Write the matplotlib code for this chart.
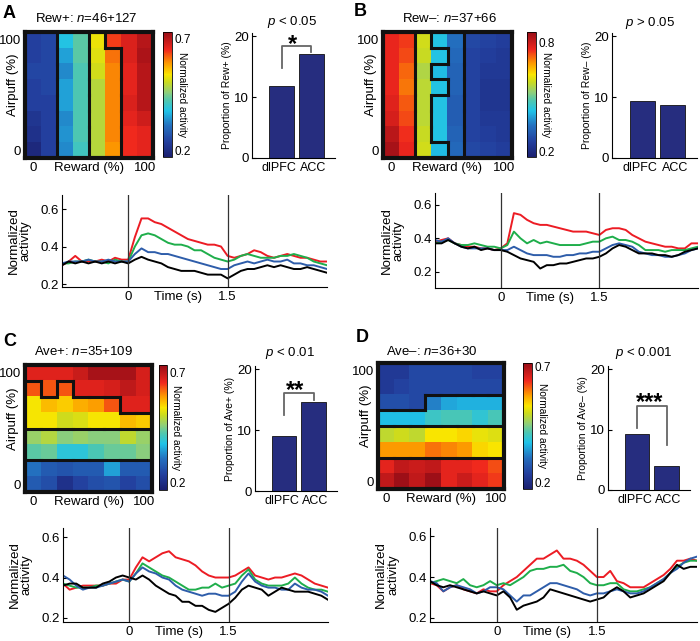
import numpy as np
import matplotlib
matplotlib.use("Agg")
import matplotlib.pyplot as plt
from matplotlib.colors import LinearSegmentedColormap
from matplotlib.collections import LineCollection

plt.rcParams["font.family"] = ["Liberation Sans", "DejaVu Sans"]
plt.rcParams["mathtext.fontset"] = "custom"
plt.rcParams["mathtext.rm"] = "Liberation Sans"
plt.rcParams["mathtext.it"] = "Liberation Sans:italic"

W, H = 700, 641

# ---------------- data ----------------
areas = ["dlPFC", "ACC"]
time_s = np.linspace(-1.0, 3.0, 41)

# heatmaps: rows = airpuff 100% (top) -> 0% (bottom), cols = reward 0% -> 100%
rew_pos_map = [
    [0.24, 0.25, 0.38, 0.43, 0.53, 0.64, 0.67, 0.70],
    [0.24, 0.25, 0.35, 0.43, 0.52, 0.61, 0.67, 0.71],
    [0.25, 0.25, 0.33, 0.42, 0.51, 0.60, 0.66, 0.70],
    [0.24, 0.25, 0.35, 0.42, 0.49, 0.60, 0.66, 0.70],
    [0.24, 0.24, 0.35, 0.42, 0.49, 0.60, 0.67, 0.70],
    [0.22, 0.24, 0.33, 0.42, 0.49, 0.60, 0.66, 0.68],
    [0.21, 0.24, 0.34, 0.42, 0.49, 0.60, 0.65, 0.66],
    [0.19, 0.24, 0.33, 0.41, 0.49, 0.59, 0.65, 0.66],
]
rew_pos_groups = [
    [0, 0, 1, 1, 2, 3, 3, 3],
    [0, 0, 1, 1, 2, 2, 3, 3],
    [0, 0, 1, 1, 2, 2, 3, 3],
    [0, 0, 1, 1, 2, 2, 3, 3],
    [0, 0, 1, 1, 2, 2, 3, 3],
    [0, 0, 1, 1, 2, 2, 3, 3],
    [0, 0, 1, 1, 2, 2, 3, 3],
    [0, 0, 1, 1, 2, 2, 3, 3],
]
rew_neg_map = [
    [0.77, 0.75, 0.59, 0.43, 0.34, 0.27, 0.26, 0.25],
    [0.77, 0.74, 0.58, 0.43, 0.33, 0.26, 0.25, 0.24],
    [0.77, 0.72, 0.56, 0.42, 0.32, 0.26, 0.24, 0.24],
    [0.77, 0.71, 0.57, 0.43, 0.32, 0.26, 0.23, 0.23],
    [0.78, 0.73, 0.57, 0.43, 0.31, 0.26, 0.23, 0.23],
    [0.79, 0.74, 0.57, 0.43, 0.31, 0.26, 0.24, 0.24],
    [0.82, 0.76, 0.58, 0.43, 0.32, 0.26, 0.25, 0.24],
    [0.84, 0.77, 0.59, 0.42, 0.33, 0.27, 0.26, 0.25],
]
rew_neg_groups = [
    [0, 0, 1, 2, 2, 3, 3, 3],
    [0, 0, 1, 1, 2, 3, 3, 3],
    [0, 0, 1, 2, 2, 3, 3, 3],
    [0, 0, 1, 1, 2, 3, 3, 3],
    [0, 0, 1, 2, 2, 3, 3, 3],
    [0, 0, 1, 2, 2, 3, 3, 3],
    [0, 0, 1, 2, 2, 3, 3, 3],
    [0, 0, 1, 1, 2, 3, 3, 3],
]
ave_pos_map = [
    [0.67, 0.67, 0.67, 0.69, 0.72, 0.72, 0.72, 0.68],
    [0.63, 0.63, 0.63, 0.67, 0.67, 0.68, 0.70, 0.68],
    [0.54, 0.57, 0.56, 0.58, 0.59, 0.63, 0.67, 0.67],
    [0.54, 0.54, 0.51, 0.52, 0.54, 0.54, 0.57, 0.56],
    [0.47, 0.49, 0.46, 0.47, 0.46, 0.46, 0.50, 0.47],
    [0.43, 0.44, 0.39, 0.39, 0.42, 0.44, 0.44, 0.46],
    [0.31, 0.28, 0.27, 0.28, 0.28, 0.35, 0.28, 0.28],
    [0.28, 0.26, 0.21, 0.24, 0.26, 0.27, 0.24, 0.26],
]
ave_pos_groups = [
    [0, 0, 0, 0, 0, 0, 0, 0],
    [1, 0, 1, 0, 0, 0, 0, 0],
    [1, 1, 1, 1, 1, 1, 0, 0],
    [1, 1, 1, 1, 1, 1, 1, 1],
    [2, 2, 2, 2, 2, 2, 2, 2],
    [2, 2, 2, 2, 2, 2, 2, 2],
    [3, 3, 3, 3, 3, 3, 3, 3],
    [3, 3, 3, 3, 3, 3, 3, 3],
]
ave_neg_map = [
    [0.225, 0.225, 0.25, 0.25, 0.25, 0.25, 0.24, 0.24],
    [0.225, 0.24, 0.25, 0.25, 0.25, 0.25, 0.25, 0.25],
    [0.26, 0.26, 0.25, 0.32, 0.35, 0.36, 0.36, 0.36],
    [0.37, 0.37, 0.37, 0.40, 0.41, 0.41, 0.39, 0.41],
    [0.49, 0.50, 0.49, 0.53, 0.53, 0.54, 0.52, 0.51],
    [0.58, 0.58, 0.58, 0.60, 0.59, 0.58, 0.54, 0.53],
    [0.65, 0.68, 0.67, 0.68, 0.65, 0.65, 0.64, 0.62],
    [0.68, 0.71, 0.68, 0.71, 0.65, 0.67, 0.65, 0.63],
]
ave_neg_groups = [
    [0, 0, 0, 0, 0, 0, 0, 0],
    [0, 0, 0, 0, 0, 0, 0, 0],
    [0, 0, 0, 1, 1, 1, 1, 1],
    [1, 1, 1, 1, 1, 1, 1, 1],
    [2, 2, 2, 2, 2, 2, 2, 2],
    [2, 2, 2, 2, 2, 2, 2, 2],
    [3, 3, 3, 3, 3, 3, 3, 3],
    [3, 3, 3, 3, 3, 3, 3, 3],
]

# proportion of neurons (%), dlPFC / ACC
rew_pos_prop = [11.8, 17.0]
rew_neg_prop = [9.4, 8.7]
ave_pos_prop = [9.0, 14.6]
ave_neg_prop = [9.2, 4.0]

# population activity, -1 s .. 3 s in 0.1 s steps
rew_pos_red = [0.30, 0.32, 0.35, 0.32, 0.32, 0.32, 0.33, 0.32, 0.34, 0.33,
               0.33, 0.45, 0.55, 0.55, 0.53, 0.52, 0.50, 0.48, 0.46, 0.44, 0.43, 0.42, 0.41, 0.41, 0.40, 0.35,
               0.34, 0.35, 0.36, 0.38, 0.37, 0.35, 0.34, 0.35, 0.36, 0.35, 0.34, 0.34, 0.33, 0.32, 0.32]
rew_pos_green = [0.31, 0.31, 0.32, 0.32, 0.33, 0.32, 0.32, 0.31, 0.33, 0.32,
                 0.32, 0.40, 0.46, 0.47, 0.46, 0.44, 0.42, 0.41, 0.41, 0.40, 0.38, 0.38, 0.36, 0.34, 0.33, 0.32,
                 0.33, 0.35, 0.36, 0.35, 0.34, 0.34, 0.34, 0.35, 0.35, 0.36, 0.35, 0.34, 0.32, 0.31, 0.30]
rew_pos_blue = [0.31, 0.32, 0.32, 0.32, 0.33, 0.32, 0.32, 0.33, 0.32, 0.32,
                0.32, 0.36, 0.39, 0.37, 0.37, 0.36, 0.36, 0.35, 0.34, 0.33, 0.32, 0.31, 0.30, 0.29, 0.28, 0.28,
                0.30, 0.31, 0.32, 0.31, 0.32, 0.33, 0.32, 0.32, 0.33, 0.31, 0.31, 0.30, 0.30, 0.29, 0.28]
rew_pos_black = [0.30, 0.32, 0.31, 0.32, 0.31, 0.32, 0.31, 0.32, 0.31, 0.32,
                 0.31, 0.33, 0.345, 0.33, 0.32, 0.31, 0.29, 0.28, 0.27, 0.27, 0.27, 0.26, 0.25, 0.25, 0.25, 0.23,
                 0.25, 0.27, 0.28, 0.28, 0.29, 0.30, 0.29, 0.30, 0.29, 0.28, 0.28, 0.29, 0.28, 0.27, 0.26]

rew_neg_red = [0.38, 0.39, 0.40, 0.37, 0.36, 0.35, 0.35, 0.34, 0.34, 0.33,
               0.34, 0.37, 0.55, 0.54, 0.51, 0.49, 0.48, 0.48, 0.47, 0.46, 0.45, 0.44, 0.44, 0.44, 0.43, 0.42,
               0.45, 0.46, 0.46, 0.45, 0.42, 0.40, 0.38, 0.37, 0.36, 0.35, 0.35, 0.34, 0.34, 0.37, 0.37]
rew_neg_green = [0.37, 0.38, 0.39, 0.37, 0.36, 0.36, 0.37, 0.36, 0.35, 0.35,
                 0.34, 0.36, 0.44, 0.40, 0.37, 0.39, 0.37, 0.38, 0.37, 0.36, 0.36, 0.36, 0.36, 0.37, 0.38, 0.38,
                 0.40, 0.41, 0.39, 0.39, 0.38, 0.36, 0.33, 0.33, 0.33, 0.32, 0.33, 0.33, 0.33, 0.34, 0.35]
rew_neg_blue = [0.39, 0.38, 0.40, 0.37, 0.35, 0.34, 0.34, 0.34, 0.34, 0.33,
                0.33, 0.33, 0.35, 0.33, 0.31, 0.30, 0.30, 0.30, 0.29, 0.29, 0.30, 0.30, 0.31, 0.31, 0.32, 0.32,
                0.34, 0.36, 0.37, 0.36, 0.35, 0.32, 0.31, 0.30, 0.30, 0.29, 0.29, 0.30, 0.31, 0.33, 0.34]
rew_neg_black = [0.37, 0.37, 0.39, 0.37, 0.35, 0.34, 0.35, 0.33, 0.34, 0.33,
                 0.33, 0.32, 0.30, 0.28, 0.27, 0.26, 0.22, 0.24, 0.24, 0.25, 0.25, 0.26, 0.27, 0.28, 0.28, 0.29,
                 0.31, 0.34, 0.36, 0.35, 0.33, 0.31, 0.31, 0.31, 0.30, 0.30, 0.29, 0.30, 0.32, 0.33, 0.34]

ave_pos_red = [0.37, 0.34, 0.35, 0.36, 0.36, 0.36, 0.36, 0.37, 0.37, 0.39,
               0.39, 0.45, 0.50, 0.48, 0.50, 0.52, 0.53, 0.50, 0.49, 0.48, 0.46, 0.43, 0.41, 0.40, 0.40, 0.40,
               0.41, 0.43, 0.45, 0.41, 0.40, 0.39, 0.40, 0.40, 0.41, 0.42, 0.41, 0.39, 0.37, 0.36, 0.35]
ave_pos_green = [0.37, 0.36, 0.35, 0.35, 0.35, 0.36, 0.36, 0.37, 0.38, 0.39,
                 0.38, 0.42, 0.47, 0.45, 0.43, 0.41, 0.40, 0.38, 0.36, 0.34, 0.34, 0.35, 0.35, 0.37, 0.35, 0.36,
                 0.37, 0.41, 0.44, 0.39, 0.37, 0.36, 0.36, 0.36, 0.37, 0.40, 0.37, 0.35, 0.34, 0.34, 0.33]
ave_pos_blue = [0.41, 0.39, 0.36, 0.34, 0.35, 0.35, 0.36, 0.37, 0.38, 0.39,
                0.38, 0.42, 0.45, 0.43, 0.42, 0.40, 0.39, 0.36, 0.34, 0.33, 0.32, 0.31, 0.32, 0.32, 0.31, 0.31,
                0.33, 0.38, 0.42, 0.38, 0.36, 0.35, 0.35, 0.34, 0.34, 0.37, 0.35, 0.34, 0.34, 0.33, 0.31]
ave_pos_black = [0.36, 0.37, 0.37, 0.35, 0.35, 0.35, 0.37, 0.38, 0.40, 0.41,
                 0.40, 0.39, 0.41, 0.39, 0.36, 0.34, 0.32, 0.31, 0.28, 0.28, 0.26, 0.26, 0.24, 0.23, 0.25, 0.27,
                 0.30, 0.34, 0.36, 0.35, 0.34, 0.31, 0.33, 0.35, 0.34, 0.33, 0.33, 0.33, 0.32, 0.31, 0.29]

ave_neg_red = [0.37, 0.36, 0.33, 0.35, 0.36, 0.34, 0.33, 0.32, 0.34, 0.33,
               0.33, 0.36, 0.38, 0.40, 0.43, 0.46, 0.49, 0.49, 0.51, 0.53, 0.49, 0.49, 0.48, 0.46, 0.43, 0.40,
               0.40, 0.43, 0.38, 0.37, 0.35, 0.35, 0.35, 0.37, 0.39, 0.41, 0.44, 0.48, 0.48, 0.49, 0.48]
ave_neg_green = [0.37, 0.38, 0.39, 0.38, 0.37, 0.39, 0.36, 0.35, 0.36, 0.38,
                 0.36, 0.37, 0.36, 0.38, 0.40, 0.43, 0.44, 0.44, 0.45, 0.45, 0.46, 0.43, 0.42, 0.40, 0.37, 0.36,
                 0.36, 0.37, 0.37, 0.34, 0.33, 0.33, 0.34, 0.35, 0.37, 0.39, 0.42, 0.45, 0.47, 0.48, 0.48]
ave_neg_blue = [0.38, 0.37, 0.33, 0.35, 0.36, 0.35, 0.34, 0.32, 0.33, 0.35,
                0.35, 0.34, 0.31, 0.28, 0.31, 0.31, 0.33, 0.35, 0.37, 0.37, 0.36, 0.35, 0.34, 0.32, 0.31, 0.32,
                0.32, 0.33, 0.34, 0.33, 0.32, 0.32, 0.33, 0.35, 0.37, 0.39, 0.42, 0.44, 0.47, 0.49, 0.50]
ave_neg_black = [0.38, 0.36, 0.35, 0.36, 0.35, 0.34, 0.33, 0.32, 0.33, 0.32,
                 0.31, 0.33, 0.30, 0.24, 0.26, 0.27, 0.28, 0.30, 0.34, 0.33, 0.32, 0.31, 0.30, 0.29, 0.28, 0.29,
                 0.30, 0.33, 0.35, 0.33, 0.30, 0.31, 0.32, 0.34, 0.36, 0.38, 0.42, 0.46, 0.44, 0.45, 0.45]

trace_colors = ["#ec1c24", "#1fae4b", "#2e5daa", "#000000"]

jet_like = LinearSegmentedColormap.from_list("jet_like", [
    (0.00, "#1b1f6e"), (0.12, "#233f9e"), (0.25, "#2470bf"), (0.37, "#20c3e8"),
    (0.45, "#4fc7b0"), (0.52, "#90cf78"), (0.60, "#cbdb1e"), (0.66, "#fae600"),
    (0.75, "#fd9a00"), (0.86, "#f0281e"), (1.00, "#960d17")])

panels = [
    dict(label="A", label_xy=(3, 13), title="Rew+: $n$=46+127", title_xy=(86, 18),
         values=rew_pos_map, groups=rew_pos_groups, vlim=(0.17, 0.73), cticks=[0.2, 0.7],
         heat=(25, 32, 153, 158), cbar=(163, 32, 172, 157),
         props=rew_pos_prop, bar_box=(252, 33, 335, 158), ylab="Proportion of Rew+ (%)",
         ptext="$p$ < 0.05", p_xy=(292, 22), stars="*", star_xy=(293, 37), bracket=(18.4, 14.8, 17.4),
         traces=[rew_pos_red, rew_pos_green, rew_pos_blue, rew_pos_black],
         line_box=(62, 195, 327, 287), ylim=(0.184, 0.675)),
    dict(label="B", label_xy=(354, 12), title="Rew\u2013: $n$=37+66", title_xy=(449, 18),
         values=rew_neg_map, groups=rew_neg_groups, vlim=(0.17, 0.86), cticks=[0.2, 0.8],
         heat=(383, 32, 512, 158), cbar=(527, 32, 536, 157),
         props=rew_neg_prop, bar_box=(612, 33, 697, 158), ylab="Proportion of Rew\u2013 (%)",
         ptext="$p$ > 0.05", p_xy=(650, 23), stars=None, star_xy=None, bracket=None,
         traces=[rew_neg_red, rew_neg_green, rew_neg_blue, rew_neg_black],
         line_box=(435, 193, 698, 288), ylim=(0.104, 0.67)),
    dict(label="C", label_xy=(3, 341), title="Ave+: $n$=35+109", title_xy=(84, 351),
         values=ave_pos_map, groups=ave_pos_groups, vlim=(0.168, 0.736), cticks=[0.2, 0.7],
         heat=(25, 365, 152, 492), cbar=(159, 365, 167, 490),
         props=ave_pos_prop, bar_box=(255, 366, 337, 491), ylab="Proportion of Ave+ (%)",
         ptext="$p$ < 0.01", p_xy=(290, 353), stars="**", star_xy=(295, 383), bracket=(16.1, 12.4, 15.0),
         traces=[ave_pos_red, ave_pos_green, ave_pos_blue, ave_pos_black],
         line_box=(63, 528, 328, 622), ylim=(0.18, 0.645)),
    dict(label="D", label_xy=(356, 338), title="Ave\u2013: $n$=36+30", title_xy=(432, 351),
         values=ave_neg_map, groups=ave_neg_groups, vlim=(0.17, 0.717), cticks=[0.2, 0.7],
         heat=(378, 363, 504, 489), cbar=(523, 363, 532, 489),
         props=ave_neg_prop, bar_box=(608, 366, 690, 490), ylab="Proportion of Ave\u2013 (%)",
         ptext="$p$ < 0.001", p_xy=(644, 353), stars="***", star_xy=(650, 395), bracket=(13.9, 10.3, 7.4),
         traces=[ave_neg_red, ave_neg_green, ave_neg_blue, ave_neg_black],
         line_box=(430, 528, 697, 622), ylim=(0.18, 0.64)),
]


def px_box(b):
    x0, y0, x1, y1 = b
    return [x0 / W, 1 - y1 / H, (x1 - x0) / W, (y1 - y0) / H]


def fig_xy(x, y):
    return x / W, 1 - y / H


def group_edges(groups, step, half):
    g = np.asarray(groups)
    n_r, n_c = g.shape
    segs = []
    for r in range(n_r):
        for c in range(n_c - 1):
            if g[r, c] != g[r, c + 1]:
                x = -half + (c + 1) * step
                y_top = 100 + half - r * step
                segs.append([(x, y_top - step), (x, y_top)])
    for r in range(n_r - 1):
        for c in range(n_c):
            if g[r, c] != g[r + 1, c]:
                y = 100 + half - (r + 1) * step
                x0 = -half + c * step
                segs.append([(x0, y), (x0 + step, y)])
    return segs


fig = plt.figure(figsize=(W / 100, H / 100), dpi=100)

for p in panels:
    fig.text(*fig_xy(*p["label_xy"]), p["label"], fontsize=13, fontweight="bold",
             ha="left", va="center")
    fig.text(*fig_xy(*p["title_xy"]), p["title"], fontsize=9.5, ha="center", va="center")

    # heatmap
    vals = np.asarray(p["values"])
    n = vals.shape[0]
    step = 100 / (n - 1)
    half = step / 2
    ax = fig.add_axes(px_box(p["heat"]))
    im = ax.imshow(vals, cmap=jet_like, vmin=p["vlim"][0], vmax=p["vlim"][1],
                   extent=(-half, 100 + half, -half, 100 + half), origin="upper",
                   aspect="auto", interpolation="nearest")
    lc = LineCollection(group_edges(p["groups"], step, half), colors="#111111",
                        linewidths=2.2, capstyle="projecting")
    ax.add_collection(lc)
    ax.set_xlim(-half, 100 + half)
    ax.set_ylim(-half, 100 + half)
    for s in ax.spines.values():
        s.set_linewidth(3)
        s.set_color("#111111")
    ax.set_xticks([0, 50, 100])
    ax.set_xticklabels(["0", "Reward (%)", "100"])
    ax.set_yticks([0, 100])
    ax.set_yticklabels(["0", "100"])
    ax.tick_params(length=0, labelsize=9.5, pad=3)
    ax.text(-0.095, 0.58, "Airpuff (%)", rotation=90, ha="center", va="center",
            fontsize=9.5, transform=ax.transAxes)

    cax = fig.add_axes(px_box(p["cbar"]))
    cb = fig.colorbar(im, cax=cax, ticks=p["cticks"])
    cb.outline.set_linewidth(0.6)
    cax.tick_params(length=0, labelsize=8.5, pad=2)
    cax.text(2.1, 0.5, "Normalized activity", rotation=-90, ha="center", va="center",
             fontsize=7.3, transform=cax.transAxes)

    # bar chart
    bx = fig.add_axes(px_box(p["bar_box"]))
    xs = np.arange(1, len(areas) + 1)
    bx.bar(xs, p["props"], width=0.83, color="#262d7f", edgecolor="#111111", linewidth=0.6)
    bx.set_xlim(0.0, 2.8)
    bx.set_ylim(0, 20.5)
    bx.set_yticks([0, 10, 20])
    # tick marks are hidden, so nudge the two labels apart a little
    bx.set_xticks(xs + np.array([-0.09, 0.07]))
    bx.set_xticklabels(areas)
    bx.spines["top"].set_visible(False)
    bx.spines["right"].set_visible(False)
    bx.tick_params(axis="y", direction="in", length=3, labelsize=9.5, pad=2)
    bx.tick_params(axis="x", length=0, labelsize=9, pad=3)
    bx.set_ylabel(p["ylab"], fontsize=7.5, labelpad=2)
    fig.text(*fig_xy(*p["p_xy"]), p["ptext"], fontsize=9.5, ha="center", va="center")
    if p["bracket"] is not None:
        top, leg_l, leg_r = p["bracket"]
        bx.plot([xs[0], xs[0], xs[1], xs[1]], [leg_l, top, top, leg_r],
                color="#666666", lw=1.3, clip_on=False)
        fig.text(*fig_xy(p["star_xy"][0], p["star_xy"][1] + 8), p["stars"], fontsize=17,
                 fontweight="bold", ha="center", va="center")

    # time course
    lx = fig.add_axes(px_box(p["line_box"]))
    for trace, c in zip(p["traces"], trace_colors):
        lx.plot(time_s, trace, color=c, lw=1.4)
    for t in (0, 1.5):
        lx.axvline(t, color="#333333", lw=0.9)
    lx.set_xlim(-1, 3)
    lx.set_ylim(*p["ylim"])
    lx.set_yticks([0.2, 0.4, 0.6])
    lx.set_xticks([0, 0.75, 1.5])
    lx.set_xticklabels(["0", "Time (s)", "1.5"])
    lx.spines["top"].set_visible(False)
    lx.spines["right"].set_visible(False)
    lx.tick_params(axis="y", direction="in", length=3, labelsize=9.5, pad=2)
    lx.tick_params(axis="x", length=0, labelsize=9.5, pad=3)
    lx.text(-0.16, 0.5, "Normalized\nactivity", rotation=90, ha="center", va="center",
            fontsize=9.5, linespacing=1.0, transform=lx.transAxes)

fig.savefig("out.png", dpi=100)
